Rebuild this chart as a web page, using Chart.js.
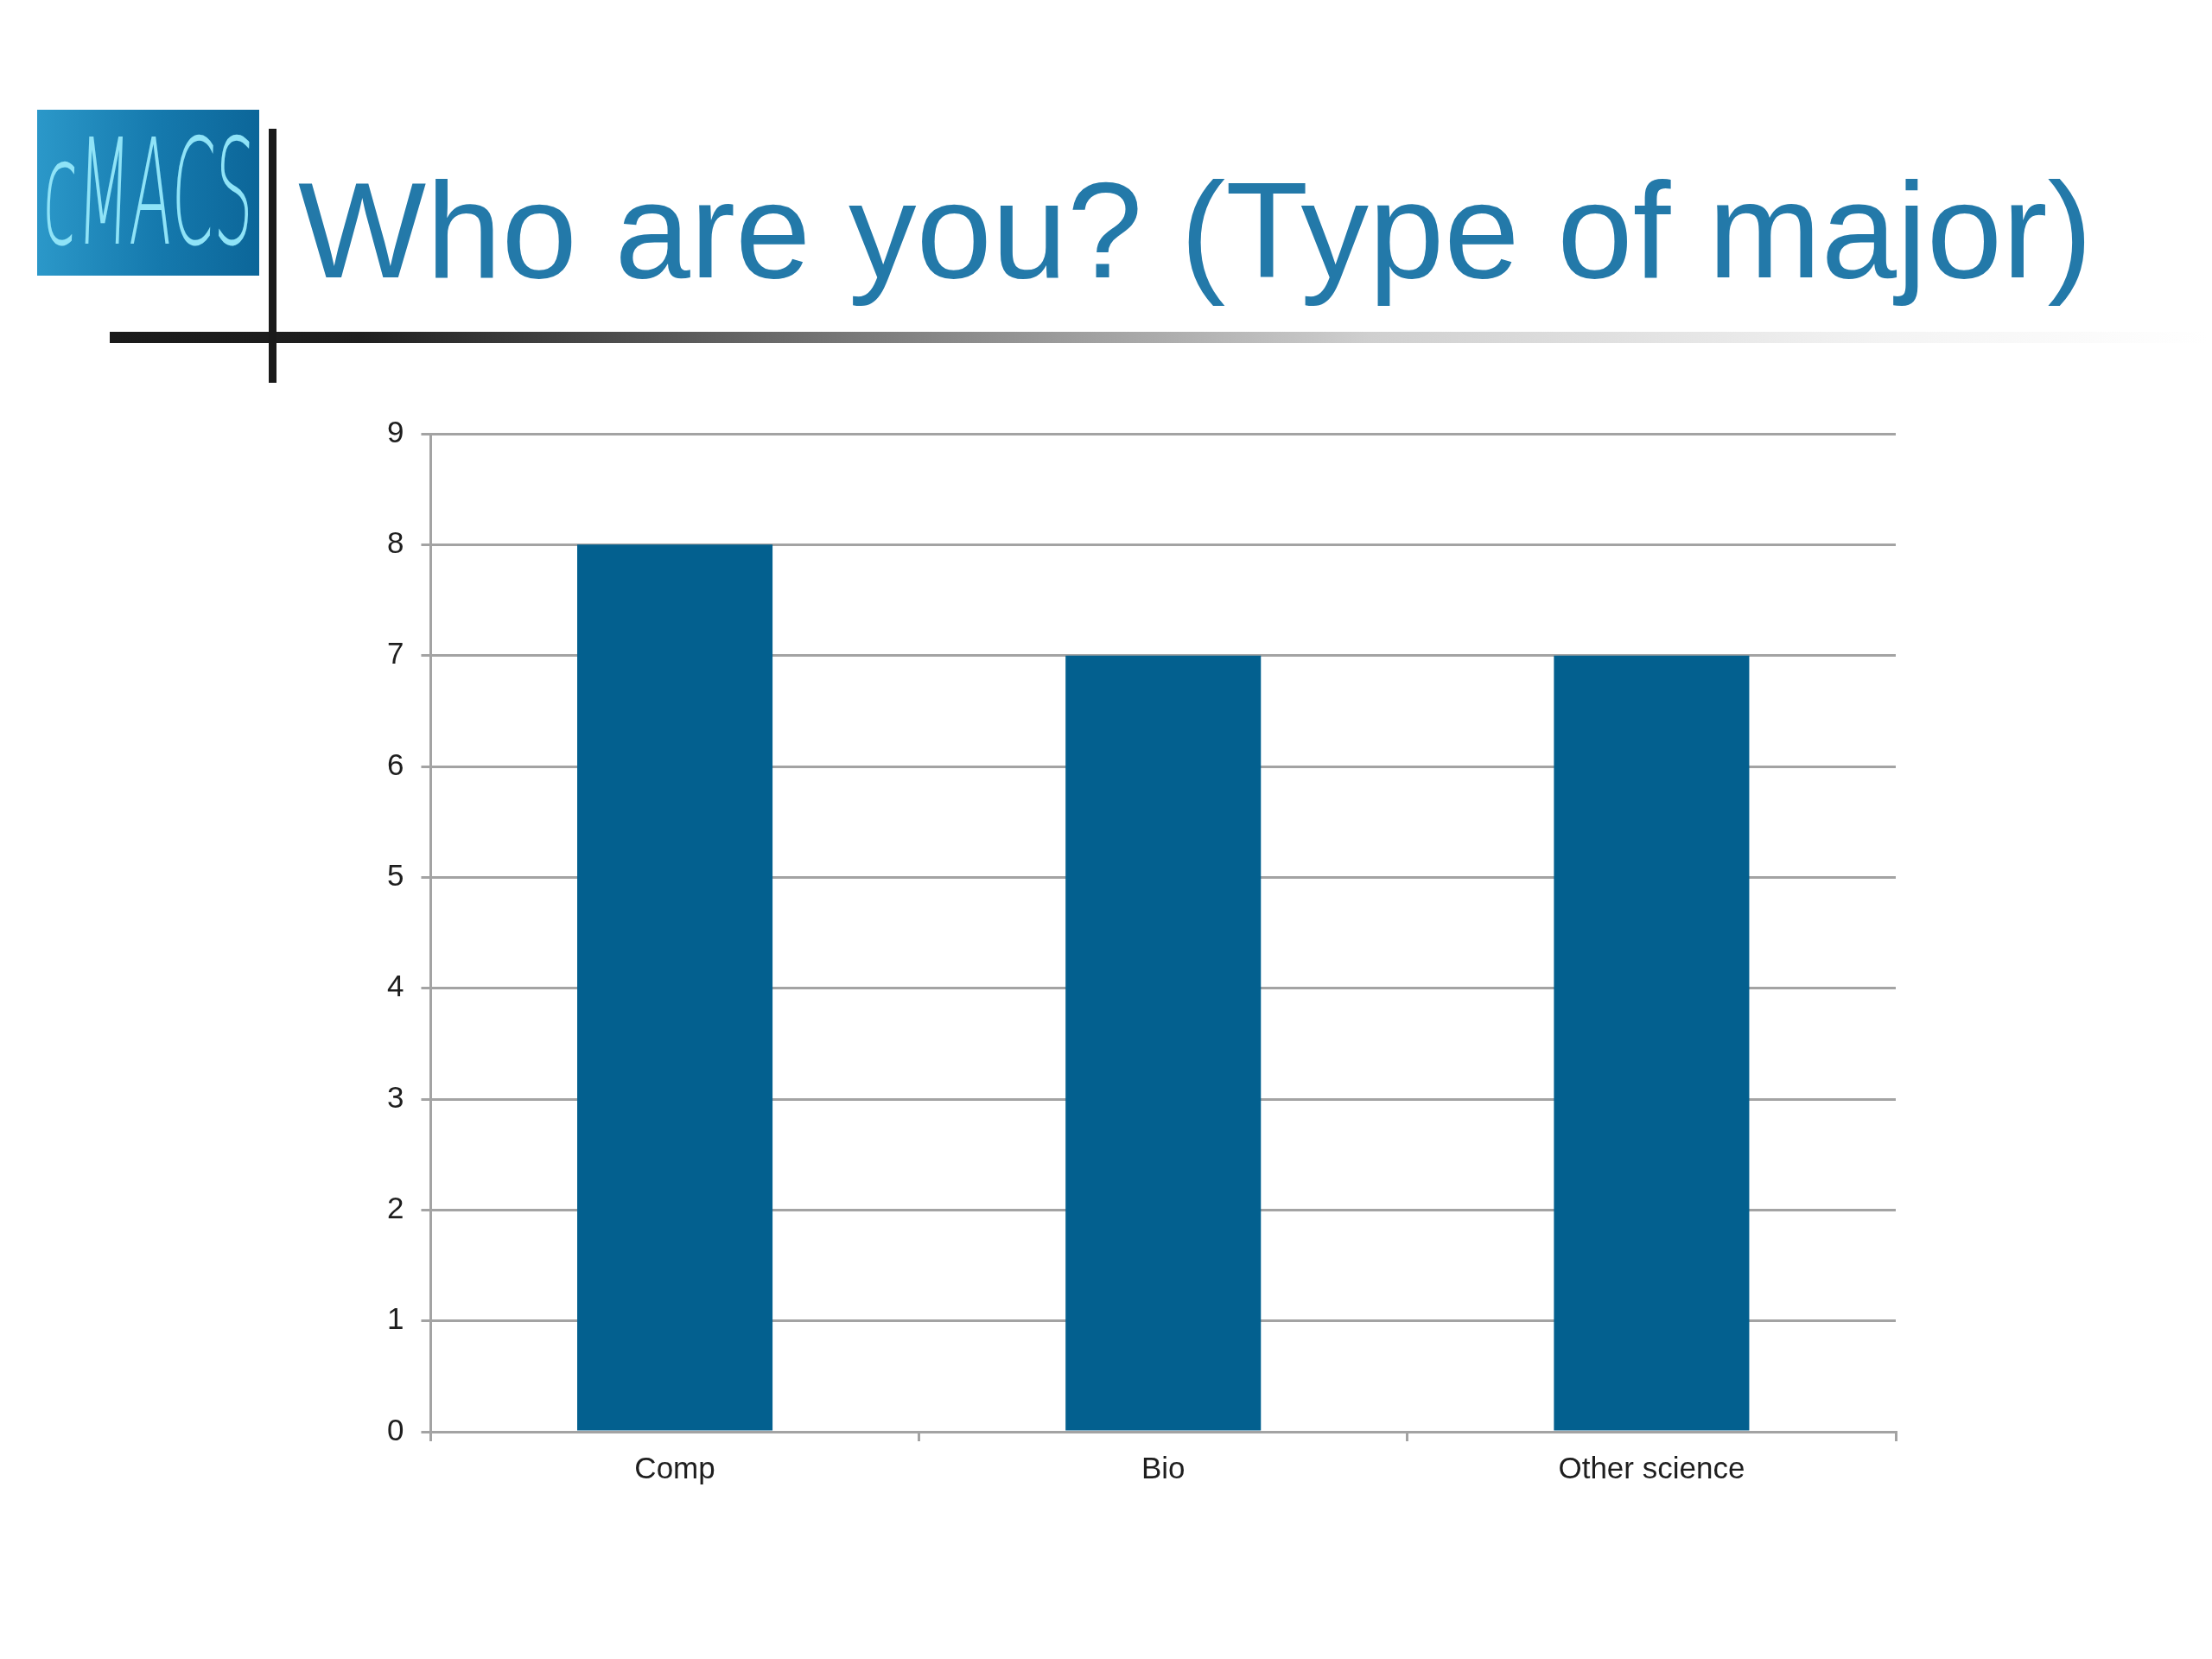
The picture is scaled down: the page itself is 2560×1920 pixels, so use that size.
<!DOCTYPE html>
<html>
<head>
<meta charset="utf-8">
<script src="https://cdn.jsdelivr.net/npm/chart.js@4"></script>
<style>
  html, body { margin:0; padding:0; background:#fff; }
  body { width:2560px; height:1920px; position:relative; overflow:hidden; font-family:'Liberation Sans', Arial, sans-serif; }
  .logo {
    position:absolute; left:43px; top:127px; width:257px; height:192px; overflow:hidden;
    background:linear-gradient(90deg, #2b98c9 0%, #1579ad 55%, #0c6699 100%);
  }
  .logo span {
    position:absolute; left:50%; top:50%; white-space:nowrap;
    color:#8fe3f7; font-family:'DejaVu Sans', sans-serif; font-weight:200;
    font-size:170px; line-height:1;
    transform:translate(-50%, -50%) scaleX(0.42) skewX(-5deg);
  }
  .vline { position:absolute; left:311px; top:149px; width:9px; height:294px; background:#1a1a1a; }
  .hline {
    position:absolute; left:127px; top:384px; width:2430px; height:13px;
    background:linear-gradient(90deg, #1a1a1a 0%, #1f1f1f 12%, #777 35%, #cfcfcf 60%, #f4f4f4 85%, #fff 100%);
  }
  .title {
    position:absolute; left:345px; top:172px; font-size:157px; line-height:190px;
    color:#2379a9; white-space:nowrap;
  }
  #wrap { position:absolute; left:0; top:0; width:2560px; height:1920px; }
</style>
</head>
<body>
<div class="logo"><span>cMACS</span></div>
<div class="hline"></div>
<div class="vline"></div>
<div class="title">Who are you? (Type of major)</div>
<div id="wrap"><canvas id="chart"></canvas></div>
<script>
const categories = ['Comp', 'Bio', 'Other science'];
const counts = [8, 7, 7];
const yMin = 0;
const yMax = 9;
const yStep = 1;

const GRID = '#a3a3a3';
const TXT = '#1e1e1e';
const FONT = "'Liberation Sans', Arial, sans-serif";

new Chart(document.getElementById('chart'), {
  type: 'bar',
  data: {
    labels: categories,
    datasets: [{ data: counts, backgroundColor: '#03608f', borderWidth: 0, barPercentage: 0.4, categoryPercentage: 1 }]
  },
  options: {
    responsive: true, maintainAspectRatio: false, animation: false,
    layout: { padding: { left: 428, right: 366, top: 502, bottom: 186 } },
    plugins: { legend: { display: false }, tooltip: { enabled: false } },
    scales: {
      x: {
        offset: true,
        grid: { drawOnChartArea: false, drawTicks: true, tickLength: 11, color: GRID, lineWidth: 3 },
        border: { color: GRID, width: 3 },
        ticks: { color: TXT, font: { family: FONT, size: 35 }, padding: 12 }
      },
      y: {
        min: yMin, max: yMax,
        grid: { color: GRID, lineWidth: 3, tickLength: 11 },
        border: { color: GRID, width: 3 },
        ticks: { stepSize: yStep, color: TXT, font: { family: FONT, size: 35 }, padding: 20 }
      }
    }
  }
});
</script>
</body>
</html>
